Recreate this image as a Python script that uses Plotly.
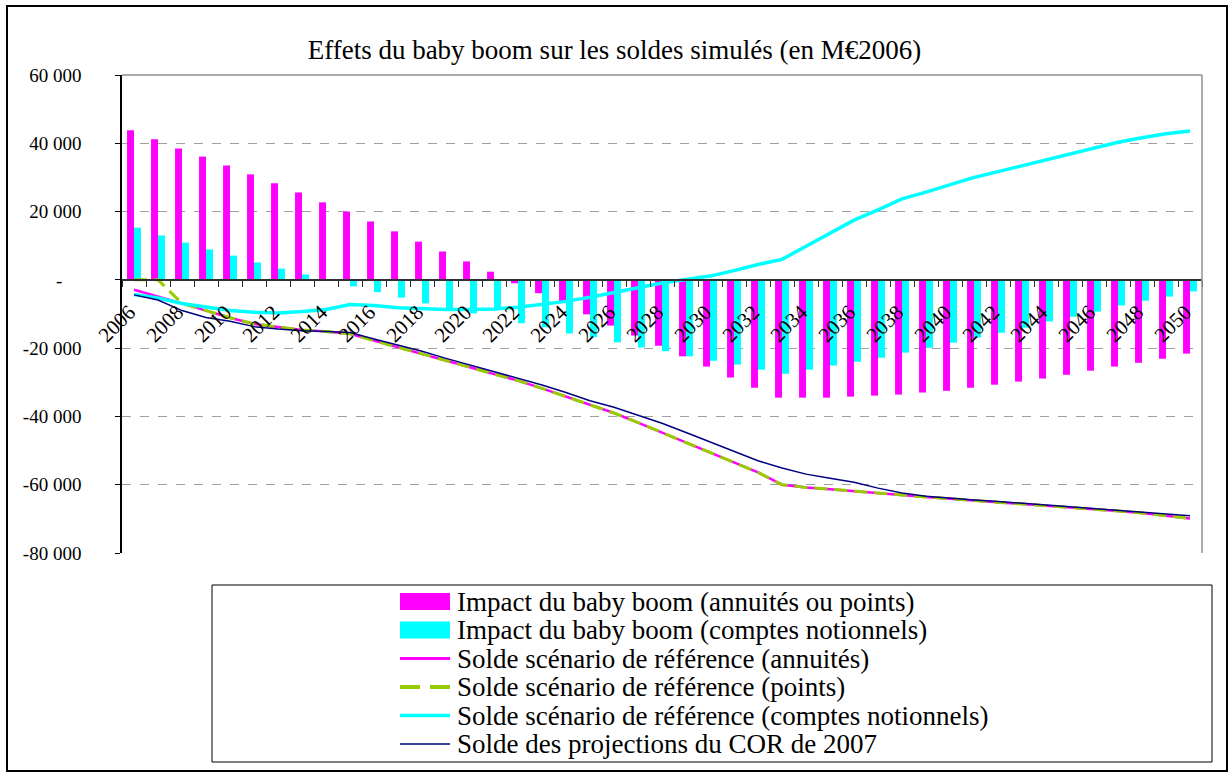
import plotly.graph_objects as go

years = list(range(2006, 2051))

impact_annuites = [43800, 41200, 38500, 36100, 33500, 30900, 28300, 25600, 22700, 20000,
                   17100, 14200, 11200, 8300, 5400, 2400, -1000, -3900, -6800, -10100,
                   -13400, -16300, -19300, -22400, -25400, -28600, -31600, -34500, -34500, -34500,
                   -34200, -33900, -33600, -33000, -32500, -31600, -30700, -29800, -28900, -27800,
                   -26600, -25400, -24300, -23100, -21600]

impact_notionnels = [15300, 13000, 10900, 8900, 7100, 5100, 3300, 1600, 200, -1900,
                     -3600, -5200, -6900, -8800, -9800, -8900, -12700, -13900, -15700, -16800,
                     -18300, -19800, -20900, -22400, -23700, -24800, -26300, -27500, -26300, -25100,
                     -24000, -22800, -21300, -19900, -18400, -16900, -15500, -14000, -12200, -10800,
                     -9300, -7500, -6100, -4900, -3400]

solde_annuites = [-2900, -4800, -6900, -9000, -11100, -12900, -13900, -14700, -15100, -15800,
                  -17800, -19700, -21700, -23700, -25600, -27600, -29500, -31800, -34200, -36600,
                  -39000, -41800, -44700, -47600, -50600, -53500, -56400, -60000, -60800, -61300,
                  -61800, -62300, -63000, -63600, -64100, -64500, -65000, -65500, -66000, -66600,
                  -67100, -67700, -68300, -69000, -69900]

solde_points = [0, 0, -6900, -9000, -11100, -12900, -13900, -14700, -15100, -15800,
                -17800, -19700, -21700, -23700, -25600, -27600, -29500, -31800, -34200, -36600,
                -39000, -41800, -44700, -47600, -50600, -53500, -56400, -60000, -60800, -61300,
                -61800, -62300, -63000, -63600, -64100, -64500, -65000, -65500, -66000, -66600,
                -67100, -67700, -68300, -69000, -69900]

solde_notionnels = [-4300, -5300, -6900, -8000, -9000, -9500, -9700, -9300, -8700, -7200,
                    -7500, -8200, -8500, -8700, -8700, -8500, -8000, -7200, -6300, -5100,
                    -3800, -2300, -900, 200, 1100, 2700, 4500, 6000, 9800, 13700,
                    17500, 20500, 23700, 25700, 27900, 30000, 31700, 33400, 35200, 36900,
                    38600, 40300, 41600, 42800, 43600]

solde_cor = [-4400, -5900, -9000, -11000, -12100, -13700, -14400, -14900, -15100, -15400,
             -17300, -19100, -20900, -23000, -24900, -26900, -28700, -30800, -33000, -35400,
             -37300, -39600, -42000, -44700, -47400, -50200, -53000, -55100, -56900, -58100,
             -59300, -61000, -62400, -63400, -64000, -64500, -64900, -65400, -65900, -66400,
             -66900, -67500, -68000, -68600, -69100]

y_tickvals = [60000, 40000, 20000, 0, -20000, -40000, -60000, -80000]
y_ticktext = ["60 000", "40 000", "20 000", "-\u00a0\u00a0\u00a0\u00a0", "-20 000", "-40 000", "-60 000", "-80 000"]
x_tickyears = years[::2]
x_ticktext = [str(y) for y in x_tickyears]

title_text = "Effets du baby boom sur les soldes simulés (en M€2006)"
names = [
    "Impact du baby boom (annuités ou points)",
    "Impact du baby boom (comptes notionnels)",
    "Solde scénario de référence (annuités)",
    "Solde scénario de référence (points)",
    "Solde scénario de référence (comptes notionnels)",
    "Solde des projections du COR de 2007",
]

FONT = "Liberation Serif"
W, H = 1229, 772
L, R, T, B = 122, 1202, 75, 553

MAGENTA, CYAN, GREEN, NAVY = "#FF00FF", "#00FFFF", "#99CC00", "#000080"


def px(x):
    return (x - L) / (R - L)


def py(y):
    return (B - y) / (B - T)


fig = go.Figure()
fig.add_trace(go.Bar(x=years, y=impact_annuites, name=names[0], showlegend=False,
                     marker=dict(color=MAGENTA, line=dict(width=0))))
fig.add_trace(go.Bar(x=years, y=impact_notionnels, name=names[1], showlegend=False,
                     marker=dict(color=CYAN, line=dict(width=0))))
fig.add_trace(go.Scatter(x=years, y=solde_annuites, name=names[2], mode="lines", showlegend=False,
                         line=dict(color=MAGENTA, width=2.5)))
fig.add_trace(go.Scatter(x=years, y=solde_points, name=names[3], mode="lines", showlegend=False,
                         line=dict(color=GREEN, width=3, dash="13px,7px")))
fig.add_trace(go.Scatter(x=years, y=solde_notionnels, name=names[4], mode="lines", showlegend=False,
                         line=dict(color=CYAN, width=3.5)))
fig.add_trace(go.Scatter(x=years, y=solde_cor, name=names[5], mode="lines", showlegend=False,
                         line=dict(color=NAVY, width=1.5)))

boundaries = [y - 0.5 for y in years] + [years[-1] + 0.5]
label_pos = [y - 0.2 for y in x_tickyears]

shapes = [
    dict(type="line", xref="paper", yref="paper", x0=0, x1=1, y0=1, y1=1,
         line=dict(color="#909090", width=1.5)),
    dict(type="line", xref="paper", yref="paper", x0=1, x1=1, y0=0, y1=1,
         line=dict(color="#909090", width=1.5)),
    dict(type="rect", xref="paper", yref="paper", x0=px(212), x1=px(1212), y0=py(762), y1=py(585),
         line=dict(color="black", width=1)),
    dict(type="rect", xref="paper", yref="paper", x0=px(7), x1=px(1227), y0=py(771), y1=py(6),
         line=dict(color="black", width=2)),
]

# manual legend (symbols + labels)
row_y = [601.5, 630, 658.5, 687, 715.5, 744]
sym_x0, sym_x1, text_x = 400, 450, 455
legend_styles = [
    ("bar", MAGENTA, None, None),
    ("bar", CYAN, None, None),
    ("line", MAGENTA, 3, "solid"),
    ("line", GREEN, 4, "20px,10px"),
    ("line", CYAN, 3.5, "solid"),
    ("line", NAVY, 1.5, "solid"),
]
annotations = []
for (kind, color, width, dash), yy, label in zip(legend_styles, row_y, names):
    if kind == "bar":
        shapes.append(dict(type="rect", xref="paper", yref="paper",
                           x0=px(sym_x0), x1=px(sym_x1), y0=py(yy + 8.5), y1=py(yy - 8.5),
                           fillcolor=color, line=dict(width=0)))
    else:
        shapes.append(dict(type="line", xref="paper", yref="paper",
                           x0=px(sym_x0), x1=px(sym_x1), y0=py(yy), y1=py(yy),
                           line=dict(color=color, width=width, dash=dash)))
    annotations.append(dict(text=label, xref="paper", yref="paper", x=px(text_x), y=py(yy),
                            xanchor="left", yanchor="middle", showarrow=False,
                            font=dict(family=FONT, size=27, color="black")))

fig.update_layout(
    width=W, height=H,
    margin=dict(l=L, r=W - R, t=T, b=H - B, autoexpand=False),
    paper_bgcolor="white", plot_bgcolor="white",
    font=dict(family=FONT, size=18, color="black"),
    barmode="group", bargap=0.42, bargroupgap=0,
    title=dict(text=title_text, x=0.5, xref="container", xanchor="center",
               y=1 - 50 / H, yref="container", yanchor="middle",
               font=dict(family=FONT, size=27, color="black")),
    showlegend=False,
    xaxis=dict(range=[years[0] - 0.5, years[-1] + 0.5], anchor="free",
               position=80000 / 140000, side="bottom",
               showline=True, linecolor="#303030", linewidth=1.5,
               tickmode="array", tickvals=label_pos, ticktext=x_ticktext,
               tickangle=-45, ticks="", ticklabelstandoff=11,
               tickfont=dict(family=FONT, size=21, color="black"),
               showgrid=False, zeroline=False,
               minor=dict(tickmode="array", tickvals=boundaries, ticks="outside",
                          ticklen=6, tickcolor="#303030", tickwidth=1, showgrid=False)),
    yaxis=dict(range=[-80000, 60000], tickmode="array", tickvals=y_tickvals, ticktext=y_ticktext,
               showline=True, linecolor="black", linewidth=1.5,
               ticks="outside", ticklen=5, tickcolor="black",
               ticklabelstandoff=30,
               tickfont=dict(family=FONT, size=19, color="black"),
               showgrid=True, gridcolor="#A0A0A0", gridwidth=1, griddash="dash",
               zeroline=False),
    shapes=shapes,
    annotations=annotations,
)

fig.write_html("out.html", config={"displayModeBar": False},
               post_script="document.body.style.margin='0';document.body.style.overflow='hidden';")
